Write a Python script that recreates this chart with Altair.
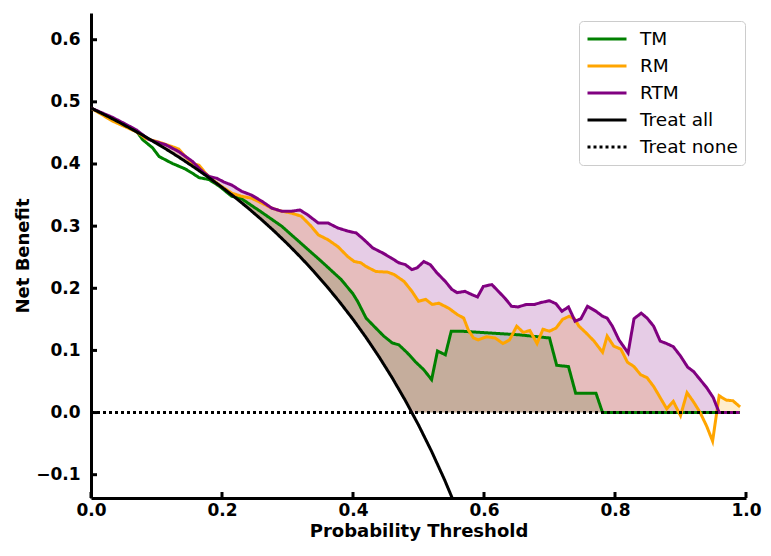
import altair as alt
import numpy as np
import pandas as pd

SERIES = ["TM", "RM", "RTM", "Treat all", "Treat none"]
COLORS = ["#008000", "#FFA500", "#800080", "#000000", "#000000"]
DASHES = [[1, 0], [1, 0], [1, 0], [1, 0], [3, 3]]

tm = [(0.0, 0.49), (0.03, 0.474), (0.05, 0.463), (0.07, 0.452), (0.079, 0.439), (0.094, 0.426),
      (0.104, 0.412), (0.124, 0.401), (0.144, 0.392), (0.155, 0.385), (0.165, 0.378), (0.180, 0.375),
      (0.195, 0.365), (0.215, 0.348), (0.230, 0.344), (0.261, 0.322), (0.291, 0.300), (0.321, 0.272),
      (0.352, 0.243), (0.382, 0.214), (0.400, 0.191), (0.407, 0.179), (0.420, 0.152), (0.432, 0.139),
      (0.447, 0.123), (0.460, 0.112), (0.470, 0.109), (0.483, 0.096), (0.495, 0.082), (0.508, 0.069),
      (0.520, 0.053), (0.529, 0.099), (0.541, 0.093), (0.550, 0.131), (0.564, 0.131), (0.609, 0.128),
      (0.655, 0.125), (0.700, 0.120), (0.711, 0.076), (0.729, 0.074), (0.740, 0.031), (0.771, 0.031),
      (0.781, 0.0), (0.99, 0.0)]

rm = [(0.0, 0.49), (0.033, 0.469), (0.069, 0.452), (0.084, 0.441), (0.104, 0.435), (0.124, 0.428),
      (0.134, 0.424), (0.144, 0.412), (0.155, 0.401), (0.165, 0.398), (0.175, 0.385), (0.185, 0.375),
      (0.195, 0.367), (0.215, 0.353), (0.230, 0.348), (0.245, 0.345), (0.261, 0.337), (0.276, 0.329),
      (0.291, 0.324), (0.306, 0.321), (0.321, 0.316), (0.336, 0.300), (0.347, 0.286), (0.362, 0.278),
      (0.377, 0.267), (0.392, 0.251), (0.402, 0.243), (0.412, 0.241), (0.420, 0.235), (0.435, 0.227),
      (0.453, 0.226), (0.463, 0.222), (0.478, 0.211), (0.490, 0.195), (0.500, 0.179), (0.511, 0.182),
      (0.521, 0.174), (0.531, 0.176), (0.546, 0.168), (0.559, 0.158), (0.569, 0.152), (0.576, 0.133),
      (0.584, 0.120), (0.591, 0.117), (0.604, 0.122), (0.617, 0.120), (0.629, 0.111), (0.639, 0.117),
      (0.650, 0.139), (0.660, 0.129), (0.670, 0.132), (0.681, 0.111), (0.690, 0.134), (0.700, 0.131),
      (0.710, 0.136), (0.720, 0.150), (0.730, 0.155), (0.738, 0.151), (0.745, 0.139), (0.756, 0.128),
      (0.768, 0.115), (0.781, 0.097), (0.788, 0.123), (0.798, 0.107), (0.809, 0.102), (0.819, 0.081),
      (0.829, 0.074), (0.839, 0.061), (0.849, 0.056), (0.859, 0.042), (0.869, 0.024), (0.879, 0.006),
      (0.889, 0.018), (0.900, -0.005), (0.910, 0.032), (0.920, 0.017), (0.930, 0.0), (0.940, -0.022),
      (0.949, -0.046), (0.959, 0.027), (0.970, 0.020), (0.980, 0.019), (0.991, 0.009)]

rtm = [(0.0, 0.49), (0.033, 0.475), (0.053, 0.464), (0.069, 0.455), (0.089, 0.439), (0.114, 0.431),
       (0.134, 0.420), (0.155, 0.404), (0.170, 0.388), (0.180, 0.380), (0.192, 0.377), (0.203, 0.371),
       (0.215, 0.366), (0.230, 0.356), (0.245, 0.350), (0.261, 0.340), (0.276, 0.329), (0.291, 0.324),
       (0.306, 0.324), (0.319, 0.326), (0.331, 0.318), (0.347, 0.305), (0.362, 0.305), (0.377, 0.297),
       (0.392, 0.292), (0.405, 0.289), (0.417, 0.278), (0.430, 0.265), (0.445, 0.257), (0.458, 0.249),
       (0.470, 0.241), (0.480, 0.238), (0.490, 0.230), (0.498, 0.233), (0.508, 0.243), (0.518, 0.238),
       (0.528, 0.225), (0.541, 0.211), (0.551, 0.198), (0.559, 0.193), (0.571, 0.195), (0.581, 0.190),
       (0.590, 0.186), (0.599, 0.203), (0.612, 0.206), (0.622, 0.195), (0.632, 0.184), (0.642, 0.171),
       (0.652, 0.170), (0.665, 0.174), (0.677, 0.174), (0.687, 0.177), (0.700, 0.180), (0.710, 0.175),
       (0.719, 0.163), (0.729, 0.170), (0.739, 0.147), (0.748, 0.151), (0.758, 0.171), (0.771, 0.163),
       (0.781, 0.155), (0.788, 0.152), (0.796, 0.139), (0.806, 0.117), (0.820, 0.096), (0.829, 0.151),
       (0.840, 0.160), (0.849, 0.152), (0.859, 0.139), (0.869, 0.115), (0.879, 0.111), (0.889, 0.106),
       (0.900, 0.091), (0.911, 0.073), (0.920, 0.066), (0.930, 0.053), (0.940, 0.040), (0.950, 0.024),
       (0.959, 0.0), (0.99, 0.0)]

treat_all = [(0.00, 0.4900), (0.02, 0.4796), (0.04, 0.4688), (0.06, 0.4574), (0.08, 0.4457),
             (0.10, 0.4333), (0.12, 0.4205), (0.14, 0.4070), (0.16, 0.3929), (0.18, 0.3780),
             (0.20, 0.3625), (0.22, 0.3462), (0.24, 0.3289), (0.26, 0.3108), (0.28, 0.2917),
             (0.30, 0.2714), (0.32, 0.2500), (0.34, 0.2273), (0.36, 0.2031), (0.38, 0.1774),
             (0.40, 0.1500), (0.42, 0.1207), (0.44, 0.0893), (0.46, 0.0556), (0.48, 0.0192),
             (0.50, -0.0200), (0.52, -0.0625), (0.54, -0.1087), (0.56, -0.1591)]

treat_none = [(0.0, 0.0), (0.99, 0.0)]

x_ticks = [0.0, 0.2, 0.4, 0.6, 0.8, 1.0]
y_ticks = [-0.1, 0.0, 0.1, 0.2, 0.3, 0.4, 0.5, 0.6]

# ---- one table for everything --------------------------------------------
rows = []
for name, pts in zip(SERIES, [tm, rm, rtm, treat_all, treat_none]):
    for p, v in pts:
        rows.append({"kind": "line", "series": name, "pt": float(p), "nb": float(v),
                     "base": 0.0, "top": 0.0})

ta_x = np.array([p for p, _ in treat_all])
ta_y = np.array([v for _, v in treat_all])


def baseline(x):
    return max(float(np.interp(x, ta_x, ta_y)), 0.0)


for name, pts in zip(SERIES[:3], [tm, rm, rtm]):
    prev = None
    for p, v in pts:
        b = baseline(p)
        d = v - b
        if prev is not None and prev[2] * d < 0:
            t = prev[2] / (prev[2] - d)
            xc = prev[0] + t * (p - prev[0])
            bc = baseline(xc)
            rows.append({"kind": "area", "series": name, "pt": float(xc), "nb": 0.0,
                         "base": bc, "top": bc})
        rows.append({"kind": "area", "series": name, "pt": float(p), "nb": 0.0,
                     "base": b, "top": max(float(v), b)})
        prev = (p, v, d)

for v in x_ticks:
    rows.append({"kind": "xtick", "series": "", "pt": float(v), "nb": 0.0, "base": 0.0, "top": 0.0})
for v in y_ticks:
    rows.append({"kind": "ytick", "series": "", "pt": 0.0, "nb": float(v), "base": 0.0, "top": 0.0})

df = pd.DataFrame(rows)

# ---- encodings ------------------------------------------------------------
W, H = 655, 485
xscale = alt.Scale(domain=[0, 1], nice=False, zero=False)
yscale = alt.Scale(domain=[-0.1375, 0.643], nice=False, zero=False)
xaxis = alt.Axis(title="Probability Threshold", values=x_ticks, format=".1f",
                 labelPadding=4, titlePadding=4, labelFlush=False)
yaxis = alt.Axis(title="Net Benefit", values=y_ticks, format=".1f",
                 labelPadding=11, titlePadding=3, labelFlush=False)


def X(field):
    return alt.X(f"{field}:Q", scale=xscale, axis=xaxis)


def Y(field):
    return alt.Y(f"{field}:Q", scale=yscale, axis=yaxis, stack=None)


color_scale = alt.Scale(domain=SERIES, range=COLORS)
dash_scale = alt.Scale(domain=SERIES, range=DASHES)
legend = alt.Legend(title=None, orient="none", legendX=488, legendY=8,
                    symbolType="stroke", symbolSize=1521, clipHeight=22, symbolStrokeWidth=3,
                    symbolOffset=0, labelOffset=12, labelFont="DejaVu Sans",
                    labelFontSize=18.5, labelColor="black", rowPadding=5, padding=7,
                    strokeColor="#cccccc", fillColor="white", cornerRadius=4)

base_chart = alt.Chart(df)
layers = []
for name, col in zip(SERIES[:3], COLORS[:3]):
    layers.append(
        base_chart.transform_filter((alt.datum.kind == "area") & (alt.datum.series == name))
        .mark_area(fill=col, fillOpacity=0.2, strokeWidth=0)
        .encode(x=X("pt"), y=Y("top"), y2=alt.Y2("base"))
    )
for name in SERIES:
    layers.append(
        base_chart.transform_filter((alt.datum.kind == "line") & (alt.datum.series == name))
        .mark_line(strokeWidth=3, clip=True)
        .encode(x=X("pt"), y=Y("nb"), order="pt:Q",
                color=alt.Color("series:N", scale=color_scale, legend=legend),
                strokeDash=alt.StrokeDash("series:N", scale=dash_scale, legend=legend))
    )
layers.append(
    base_chart.transform_filter(alt.datum.kind == "xtick")
    .mark_rule(strokeWidth=3)
    .encode(x=X("pt"), y=alt.value(H), y2=alt.value(H - 6), color=alt.value("black"))
)
layers.append(
    base_chart.transform_filter(alt.datum.kind == "ytick")
    .mark_rule(strokeWidth=3)
    .encode(y=Y("nb"), x=alt.value(0), x2=alt.value(6), color=alt.value("black"))
)

chart = (
    alt.layer(*layers)
    .properties(width=W, height=H, autosize="none",
                padding={"left": 83, "top": 5, "right": 17, "bottom": 46})
    .configure_view(stroke=None)
    .configure_axis(grid=False, domainColor="black", domainWidth=3, ticks=False, tickSize=0,
                    labelFont="DejaVu Sans", labelFontWeight="bold", labelFontSize=17,
                    labelColor="black", titleFont="DejaVu Sans", titleFontWeight="bold",
                    titleFontSize=18, titleColor="black")
)

chart.save("out.html", embed_options={"renderer": "svg", "actions": False})
